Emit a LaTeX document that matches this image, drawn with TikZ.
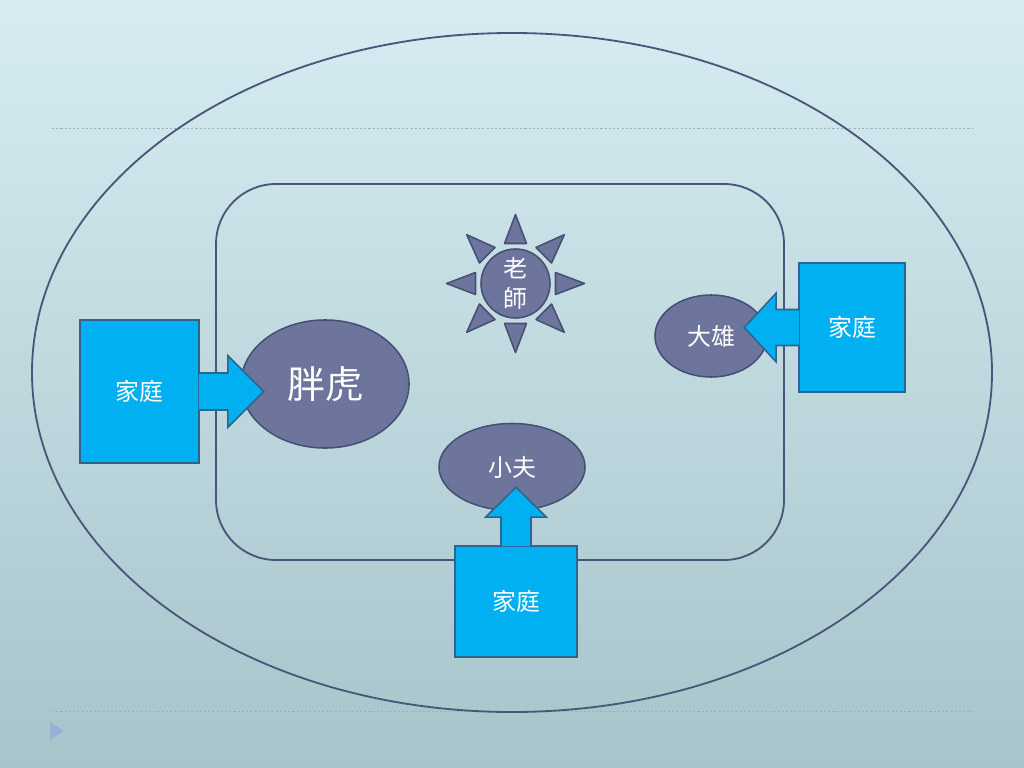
\documentclass[tikz,border=0pt]{standalone}
\usepackage{fontspec}
\newfontfamily\cjk{Noto Sans CJK TC}
\usetikzlibrary{shapes,positioning,calc}
\definecolor{bgtop}{RGB}{214,236,242}
\definecolor{bgbot}{RGB}{166,196,202}
\definecolor{framecol}{RGB}{74,85,122}
\definecolor{kidfill}{RGB}{110,117,156}
\definecolor{kidline}{RGB}{70,80,115}
\definecolor{homefill}{RGB}{0,176,240}
\definecolor{homeline}{RGB}{45,100,145}
\definecolor{rulecol}{RGB}{150,180,192}
\definecolor{pagemark}{RGB}{150,176,214}
\tikzset{
    basic/.style  = {draw, inner sep=0pt, text=white, font=\cjk\fontsize{17}{21}\selectfont},
    kid/.style    = {basic, ellipse, draw=kidline, fill=kidfill, line width=1.1pt},
    teacher/.style = {kid, circle, minimum size=1.725cm, align=center},
    home/.style   = {basic, rectangle, draw=homeline, fill=homefill, line width=1.1pt},
    home arrow/.style = {draw=homeline, fill=homefill, line width=1.1pt, line join=miter},
    ray/.style    = {draw=kidline, fill=kidfill, line width=1.1pt, line join=round},
    ring/.style   = {draw=framecol, line width=1.3pt},
    dotrule/.style = {draw=rulecol, line width=0.7pt, dash pattern=on 1.5pt off 1.5pt}
}
\begin{document}
\begin{tikzpicture}[x=0.025cm, y=-0.025cm]
    \path[use as bounding box, top color=bgtop, bottom color=bgbot] (0,0) rectangle (1024,768);
    \draw[dotrule] (52,128) -- (972,128);
    \draw[dotrule] (52,711) -- (972,711);
    \fill[pagemark] (50,722) -- (64,731) -- (50,740) -- cycle;
    \draw[ring] (512,372.5) ellipse [x radius=480, y radius=339.5];
    \draw[ring, rounded corners=1.5cm] (216,184) rectangle (784,560);

    \node[teacher] (laoshi) at (515.5,283.5) {老\\師};
    \foreach \a in {0,45,...,315}
        \filldraw[ray] ($(laoshi)+(\a:40)+(\a+90:11)$) -- ($(laoshi)+(\a:69)$)
            -- ($(laoshi)+(\a:40)+(\a-90:11)$) -- cycle;

    \node[kid, minimum width=4.2cm, minimum height=3.2cm,
        font=\cjk\fontsize{27}{30}\selectfont] (panghu) at (325,384) {胖虎};
    \node[kid, minimum width=2.8cm, minimum height=2.05cm] (daxiong) at (711,336) {大雄};
    \node[kid, minimum width=3.65cm, minimum height=2.175cm] (xiaofu) at (512,467) {小夫};

    \node[home, minimum width=2.975cm, minimum height=3.575cm] (homeL) at (139.5,391.5) {家庭};
    \node[home, minimum width=2.65cm, minimum height=3.225cm] (homeR) at (852,327.5) {家庭};
    \node[home, minimum width=3.05cm, minimum height=2.775cm] (homeB) at (516,601.5) {家庭};

    \filldraw[home arrow] (homeL.east) ++(-1,-18.5) -- ++(29,0) -- ++(0,-17.5)
        -- ++(36,36) -- ++(-36,36) -- ++(0,-17.5) -- ++(-29,0);
    \filldraw[home arrow] (homeR.west) ++(1,-18) -- ++(-23,0) -- ++(0,-16.5)
        -- ++(-32,34.5) -- ++(32,34.5) -- ++(0,-16.5) -- ++(23,0);
    \filldraw[home arrow] (homeB.north) ++(-15,1) -- ++(0,-29) -- ++(-15.5,0)
        -- ++(30.5,-30) -- ++(30.5,30) -- ++(-15.5,0) -- ++(0,29);
\end{tikzpicture}
\end{document}
